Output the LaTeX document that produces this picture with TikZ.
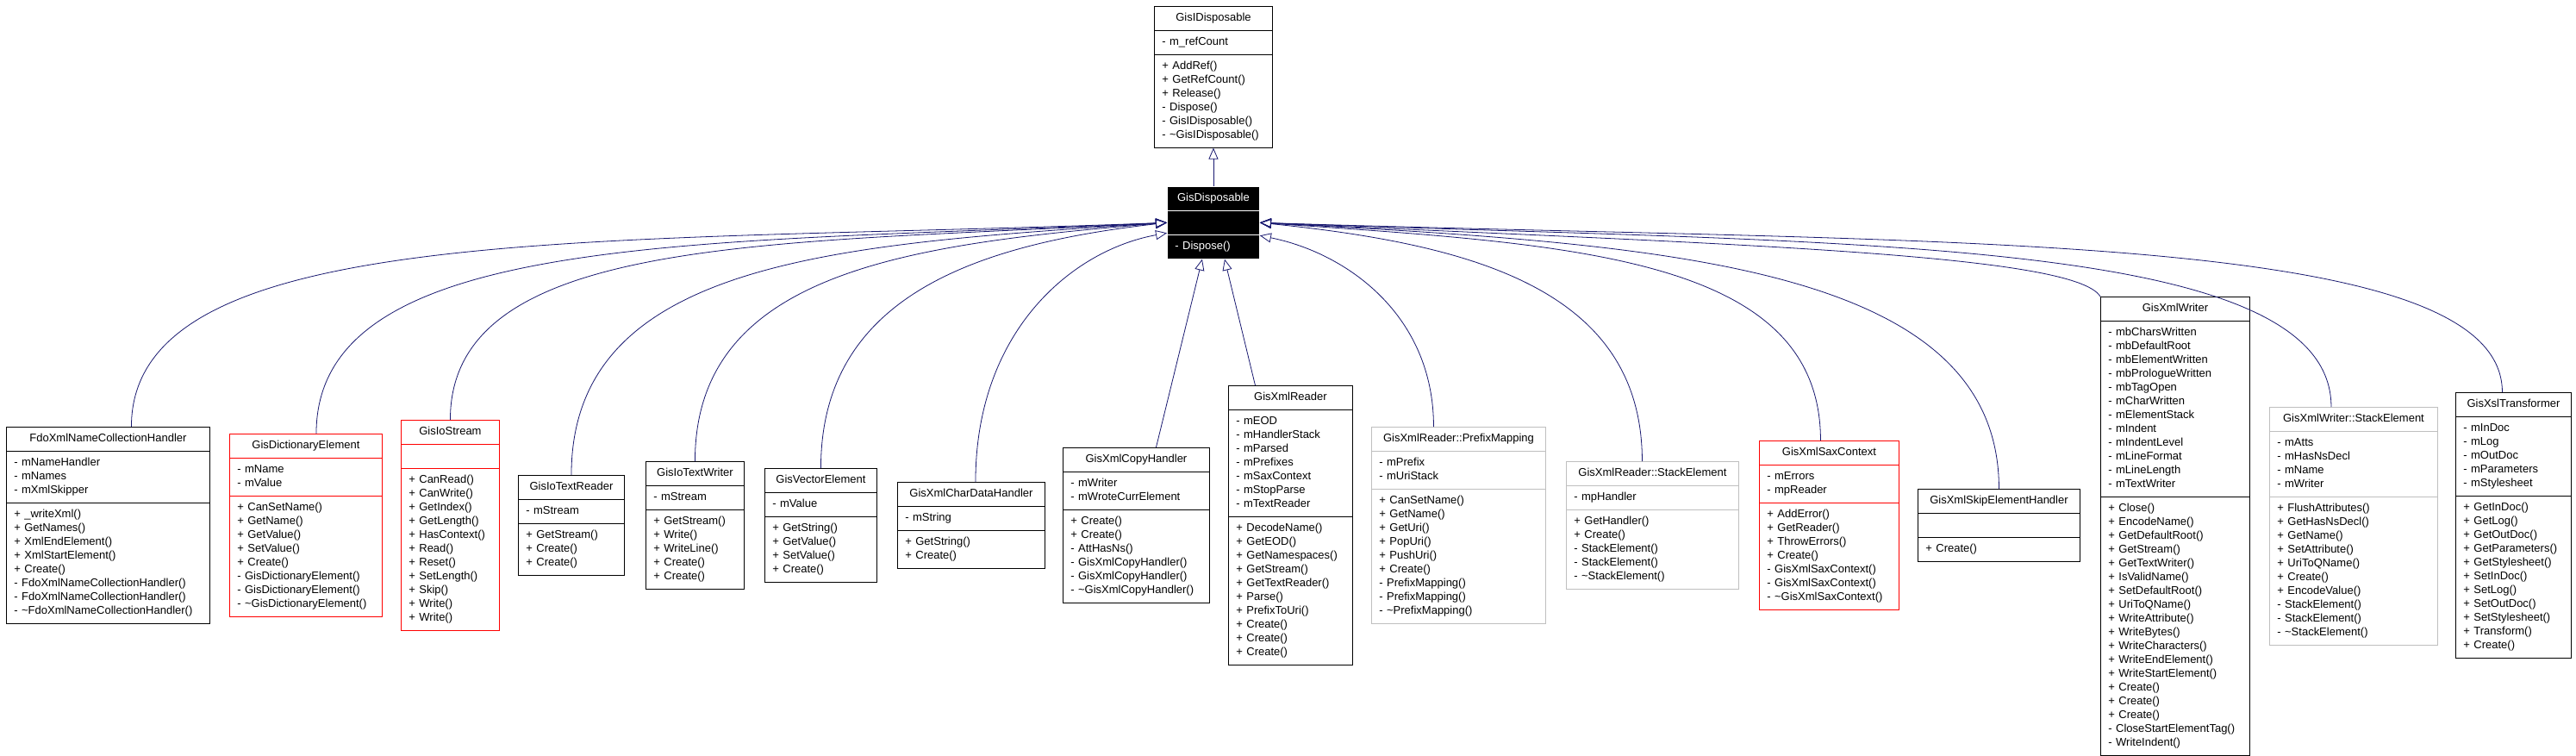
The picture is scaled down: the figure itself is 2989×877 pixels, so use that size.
\documentclass[tikz,border=0pt]{standalone}
\usepackage{fontspec}
\setmainfont{Liberation Sans}
\usetikzlibrary{shapes.multipart,arrows.meta}
\definecolor{edgeblue}{HTML}{191970}
\definecolor{undocred}{HTML}{FF0000}
\definecolor{nestedgray}{HTML}{BFBFBF}
\begin{document}
\begin{tikzpicture}[
  x=1pt,y=-1pt,
  font=\fontsize{13}{16}\selectfont,
  classbox/.style={rectangle split,rectangle split parts=3,draw,anchor=north west,
    line width=0.9pt,inner xsep=9pt,inner ysep=5.5pt,align=left,
    every text node part/.style={align=center},
    execute at begin node=\strut,execute at end node=\strut},
  undocumented/.style={classbox,draw=undocred},
  nested/.style={classbox,draw=nestedgray},
  inherit/.style={draw=edgeblue,line width=0.8pt,-{Triangle[open,length=13pt,width=11pt]}}
]
  \fill[white] (0,0) rectangle (2989,877);
  \useasboundingbox (0,0) rectangle (2989,877);

  \node[classbox,text width=119pt] (idisposable) at (1339,7)
    {GisIDisposable\nodepart{second}- m\_refCount
     \nodepart{third}+ AddRef()\\+ GetRefCount()\\+ Release()\\- Dispose()\\- GisIDisposable()\\- \textasciitilde GisIDisposable()};
  \node[classbox,fill=black,draw=white,text=white,text width=89pt] (disposable) at (1354,216)
    {GisDisposable\nodepart{second}\strut\nodepart{third}- Dispose()};

  \node[classbox,text width=218pt] (fdo) at (7,495)
    {FdoXmlNameCollectionHandler\nodepart{second}- mNameHandler\\- mNames\\- mXmlSkipper
     \nodepart{third}+ \_writeXml()\\+ GetNames()\\+ XmlEndElement()\\+ XmlStartElement()\\+ Create()\\- FdoXmlNameCollectionHandler()\\- FdoXmlNameCollectionHandler()\\- \textasciitilde FdoXmlNameCollectionHandler()};
  \node[undocumented,text width=159pt] (dictionary) at (266,503)
    {GisDictionaryElement\nodepart{second}- mName\\- mValue
     \nodepart{third}+ CanSetName()\\+ GetName()\\+ GetValue()\\+ SetValue()\\+ Create()\\- GisDictionaryElement()\\- GisDictionaryElement()\\- \textasciitilde GisDictionaryElement()};
  \node[undocumented,text width=96pt] (iostream) at (465,487)
    {GisIoStream\nodepart{second}\strut
     \nodepart{third}+ CanRead()\\+ CanWrite()\\+ GetIndex()\\+ GetLength()\\+ HasContext()\\+ Read()\\+ Reset()\\+ SetLength()\\+ Skip()\\+ Write()\\+ Write()};
  \node[classbox,text width=105pt] (textreader) at (601,551)
    {GisIoTextReader\nodepart{second}- mStream
     \nodepart{third}+ GetStream()\\+ Create()\\+ Create()};
  \node[classbox,text width=96pt] (textwriter) at (749,535)
    {GisIoTextWriter\nodepart{second}- mStream
     \nodepart{third}+ GetStream()\\+ Write()\\+ WriteLine()\\+ Create()\\+ Create()};
  \node[classbox,text width=112pt] (vector) at (887,543)
    {GisVectorElement\nodepart{second}- mValue
     \nodepart{third}+ GetString()\\+ GetValue()\\+ SetValue()\\+ Create()};
  \node[classbox,text width=153pt] (chardata) at (1041,559)
    {GisXmlCharDataHandler\nodepart{second}- mString
     \nodepart{third}+ GetString()\\+ Create()};
  \node[classbox,text width=152pt] (copyhandler) at (1233,519)
    {GisXmlCopyHandler\nodepart{second}- mWriter\\- mWroteCurrElement
     \nodepart{third}+ Create()\\+ Create()\\- AttHasNs()\\- GisXmlCopyHandler()\\- GisXmlCopyHandler()\\- \textasciitilde GisXmlCopyHandler()};
  \node[classbox,text width=126pt] (reader) at (1425,447)
    {GisXmlReader\nodepart{second}- mEOD\\- mHandlerStack\\- mParsed\\- mPrefixes\\- mSaxContext\\- mStopParse\\- mTextReader
     \nodepart{third}+ DecodeName()\\+ GetEOD()\\+ GetNamespaces()\\+ GetStream()\\+ GetTextReader()\\+ Parse()\\+ PrefixToUri()\\+ Create()\\+ Create()\\+ Create()};
  \node[nested,text width=184pt] (prefixmapping) at (1591,495)
    {GisXmlReader::PrefixMapping\nodepart{second}- mPrefix\\- mUriStack
     \nodepart{third}+ CanSetName()\\+ GetName()\\+ GetUri()\\+ PopUri()\\+ PushUri()\\+ Create()\\- PrefixMapping()\\- PrefixMapping()\\- \textasciitilde PrefixMapping()};
  \node[nested,text width=182pt] (readerstack) at (1817,535)
    {GisXmlReader::StackElement\nodepart{second}- mpHandler
     \nodepart{third}+ GetHandler()\\+ Create()\\- StackElement()\\- StackElement()\\- \textasciitilde StackElement()};
  \node[undocumented,text width=144pt] (saxcontext) at (2041,511)
    {GisXmlSaxContext\nodepart{second}- mErrors\\- mpReader
     \nodepart{third}+ AddError()\\+ GetReader()\\+ ThrowErrors()\\+ Create()\\- GisXmlSaxContext()\\- GisXmlSaxContext()\\- \textasciitilde GisXmlSaxContext()};
  \node[classbox,text width=170pt] (skiphandler) at (2225,567)
    {GisXmlSkipElementHandler\nodepart{second}\strut\nodepart{third}+ Create()};
  \node[classbox,text width=155pt] (writer) at (2437,344)
    {GisXmlWriter\nodepart{second}- mbCharsWritten\\- mbDefaultRoot\\- mbElementWritten\\- mbPrologueWritten\\- mbTagOpen\\- mCharWritten\\- mElementStack\\- mIndent\\- mIndentLevel\\- mLineFormat\\- mLineLength\\- mTextWriter
     \nodepart{third}+ Close()\\+ EncodeName()\\+ GetDefaultRoot()\\+ GetStream()\\+ GetTextWriter()\\+ IsValidName()\\+ SetDefaultRoot()\\+ UriToQName()\\+ WriteAttribute()\\+ WriteBytes()\\+ WriteCharacters()\\+ WriteEndElement()\\+ WriteStartElement()\\+ Create()\\+ Create()\\+ Create()\\- CloseStartElementTag()\\- WriteIndent()};
  \node[nested,text width=177pt] (writerstack) at (2633,472)
    {GisXmlWriter::StackElement\nodepart{second}- mAtts\\- mHasNsDecl\\- mName\\- mWriter
     \nodepart{third}+ FlushAttributes()\\+ GetHasNsDecl()\\+ GetName()\\+ SetAttribute()\\+ UriToQName()\\+ Create()\\+ EncodeValue()\\- StackElement()\\- StackElement()\\- \textasciitilde StackElement()};
  \node[classbox,text width=116pt] (xsl) at (2849,455)
    {GisXslTransformer\nodepart{second}- mInDoc\\- mLog\\- mOutDoc\\- mParameters\\- mStylesheet
     \nodepart{third}+ GetInDoc()\\+ GetLog()\\+ GetOutDoc()\\+ GetParameters()\\+ GetStylesheet()\\+ SetInDoc()\\+ SetLog()\\+ SetOutDoc()\\+ SetStylesheet()\\+ Transform()\\+ Create()};

  \draw[inherit] (disposable.north) -- (idisposable.south);
  \draw[inherit] ([xshift=27pt]fdo.north) .. controls +(0,-239) and +(-661,25) .. (disposable.west);
  \draw[inherit] ([xshift=12pt]dictionary.north) .. controls +(0,-235) and +(-543,25) .. (disposable.west);
  \draw[inherit] (iostream.north) .. controls +(0,-215) and +(-458,25) .. (disposable.west);
  \draw[inherit] (textreader.north) .. controls +(0,-250) and +(-380,25) .. (disposable.west);
  \draw[inherit] (textwriter.north) .. controls +(0,-220) and +(-300,25) .. (disposable.west);
  \draw[inherit] (vector.north) .. controls +(0,-200) and +(-220,25) .. (disposable.west);
  \draw[inherit] ([xshift=5pt]chardata.north) .. controls +(0,-175) and +(-110,20) .. ([yshift=-12pt]disposable.west);
  \draw[inherit] ([xshift=23pt]copyhandler.north) -- ([xshift=-13pt]disposable.south);
  \draw[inherit] ([xshift=-41pt]reader.north) -- ([xshift=13pt]disposable.south);
  \draw[inherit] ([xshift=-29pt]prefixmapping.north) .. controls +(0,-130) and +(100,20) .. ([yshift=-15pt]disposable.east);
  \draw[inherit] ([xshift=-12pt]readerstack.north) .. controls +(0,-200) and +(245,25) .. (disposable.east);
  \draw[inherit] ([xshift=-10pt]saxcontext.north) .. controls +(0,-215) and +(360,25) .. (disposable.east);
  \draw[inherit] (skiphandler.north) .. controls +(0,-260) and +(470,25) .. (disposable.east);
  \draw[inherit] (writer.north west) .. controls +(-30,-50) and +(540,25) .. (disposable.east);
  \draw[inherit] ([xshift=-26pt]writerstack.north) .. controls +(0,-200) and +(680,25) .. (disposable.east);
  \draw[inherit] ([xshift=-13pt]xsl.north) .. controls +(0,-190) and +(790,25) .. (disposable.east);
\end{tikzpicture}
\end{document}
